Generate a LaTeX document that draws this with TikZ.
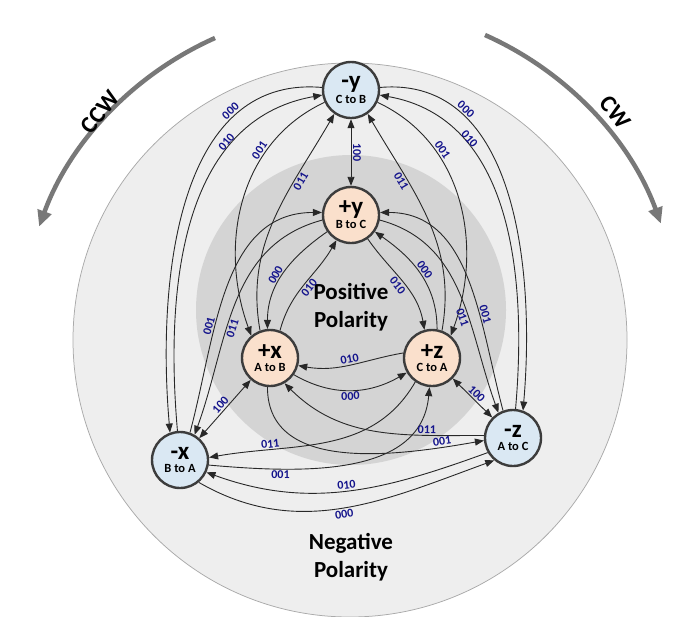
\documentclass[tikz,border=0pt]{standalone}
\usepackage{fontspec}
\setmainfont{Carlito}
\usetikzlibrary{arrows.meta}
\definecolor{negfill}{RGB}{218,232,243}
\definecolor{posfill}{RGB}{250,224,204}
\definecolor{codeblue}{RGB}{20,20,140}
\definecolor{outerbg}{RGB}{238,238,238}
\definecolor{outerln}{RGB}{170,170,170}
\definecolor{innerbg}{RGB}{212,212,212}
\definecolor{rotgray}{RGB}{120,120,120}
\definecolor{edgegray}{RGB}{40,40,40}
\definecolor{rimgray}{RGB}{60,60,60}
\tikzset{every picture/.style={line width=0.75pt},
  state/.style={circle,draw=rimgray,line width=2.4pt,minimum size=56pt,inner sep=0pt,align=center,font=\bfseries},
  negstate/.style={state,fill=negfill},
  posstate/.style={state,fill=posfill},
  ed/.style={-{Triangle[length=9pt,width=7pt]},color=edgegray,line width=0.9pt},
  bi/.style={{Triangle[length=9pt,width=7pt]}-{Triangle[length=9pt,width=7pt]},color=edgegray,line width=0.9pt},
  lbl/.style={font=\fontsize{12}{12}\selectfont\bfseries,text=codeblue,sloped,inner sep=1.5pt}}
\newcommand{\stlabel}[2]{{\fontsize{25}{25}\selectfont #1}\\[1pt]{\fontsize{12.5}{12.5}\selectfont #2}}
\begin{document}
\begin{tikzpicture}[x=1pt,y=-1pt]
		\useasboundingbox (0,0) rectangle (692,616);
		\fill[white] (0,0) rectangle (692,616);
		
		%Shape: outer circle
		\draw[fill=outerbg,draw=outerln] (350,340) circle (277);
		%Shape: inner circle
		\fill[innerbg] (351,310) circle (155);
		
		%Curve Lines: rotation arrows
		\draw[-{Triangle[length=16pt,width=14pt]},line width=4.5pt,color=rotgray] (215,38) arc[start angle=-114,end angle=-160,radius=330];
		\draw[-{Triangle[length=16pt,width=14pt]},line width=4.5pt,color=rotgray] (485,35) arc[start angle=-66,end angle=-20,radius=330];
		\node[font=\fontsize{24}{24}\selectfont\bfseries,rotate=52] (ccw) at (100,112) {CCW};
		\node[font=\fontsize{24}{24}\selectfont\bfseries,rotate=-52] (cw) at (615,112) {CW};
		
		% Text Node
		\node[font=\fontsize{23}{28}\selectfont\bfseries,align=center] (ptxt) at (351,307) {Positive\\Polarity};
		\node[font=\fontsize{23}{28}\selectfont\bfseries,align=center] (ntxt) at (351,557) {Negative\\Polarity};
		
		% States
		\node[negstate] (my) at (351,90) {\stlabel{-y}{C to B}};
		\node[posstate] (py) at (351,215) {\stlabel{+y}{B to C}};
		\node[posstate] (px) at (270,358) {\stlabel{+x}{A to B}};
		\node[posstate] (pz) at (432,358) {\stlabel{+z}{C to A}};
		\node[negstate] (mx) at (180,460) {\stlabel{-x}{B to A}};
		\node[negstate] (mz) at (513,438) {\stlabel{-z}{A to C}};
		
		% 100 transitions
		\draw[bi] (my) -- node[lbl,above] {100} (py);
		\draw[bi] (px) -- node[lbl,above] {100} (mx);
		\draw[bi] (pz) -- node[lbl,above] {100} (mz);
		
		% -y with -x and -z
		\draw[ed] (my.175) to[out=175,in=95] node[lbl,above,pos=0.25] {000} (mx.110);
		\draw[ed] (mx.95) to[out=95,in=190] node[lbl,above,pos=0.72] {010} (my.190);
		\draw[ed] (my.5) to[out=5,in=85] node[lbl,above,pos=0.25] {000} (mz.70);
		\draw[ed] (mz.85) to[out=85,in=-10] node[lbl,above,pos=0.72] {010} (my.-10);
		
		% -y with +x and +z
		\draw[ed] (my.205) to[out=205,in=110] node[lbl,above,pos=0.3] {001} (px.130);
		\draw[ed] (px.110) to[out=100,in=240] node[lbl,below,pos=0.7] {011} (my.235);
		\draw[ed] (my.-25) to[out=-25,in=70] node[lbl,above,pos=0.3] {001} (pz.50);
		\draw[ed] (pz.70) to[out=80,in=-60] node[lbl,below,pos=0.7] {011} (my.-55);
		
		% +y with -x and -z
		\draw[ed] (mx.70) to[out=75,in=180] node[lbl,above,pos=0.35] {001} (py.175);
		\draw[ed] (py.190) to[out=195,in=70] node[lbl,below,pos=0.6] {011} (mx.60);
		\draw[ed] (mz.110) to[out=105,in=0] node[lbl,above,pos=0.35] {001} (py.5);
		\draw[ed] (py.-10) to[out=-15,in=110] node[lbl,below,pos=0.6] {011} (mz.120);
		
		% +y with +x and +z
		\draw[ed] (py.215) to[out=215,in=90] node[lbl,above,pos=0.55] {000} (px.95);
		\draw[ed] (px.70) to[out=75,in=240] node[lbl,below,pos=0.5] {010} (py.240);
		\draw[ed] (py.-55) to[out=-55,in=100] node[lbl,below,pos=0.5] {010} (pz.105);
		\draw[ed] (pz.80) to[out=90,in=-35] node[lbl,above,pos=0.5] {000} (py.-35);
		
		% +x with +z
		\draw[ed] (pz.170) to[out=190,in=-10] node[lbl,above] {010} (px.-15);
		\draw[ed] (px.-35) to[out=-30,in=210] node[lbl,below] {000} (pz.-150);
		
		% -x with +z, -z with +x
		\draw[ed] (pz.-125) to[out=-120,in=10] node[lbl,above,pos=0.75] {011} (mx.5);
		\draw[ed] (mx.-10) to[out=-5,in=-95] node[lbl,below,pos=0.25] {001} (pz.-95);
		\draw[ed] (mz.175) to[out=180,in=-45] node[lbl,above,pos=0.25] {011} (px.-60);
		\draw[ed] (px.-95) to[out=-90,in=190] node[lbl,above,pos=0.85] {001} (mz.185);
		
		% -x with -z
		\draw[ed] (mz.-150) to[out=-160,in=-20] node[lbl,above] {010} (mx.-25);
		\draw[ed] (mx.-50) to[out=-30,in=-160] node[lbl,below] {000} (mz.-130);
		
\end{tikzpicture}
\end{document}
